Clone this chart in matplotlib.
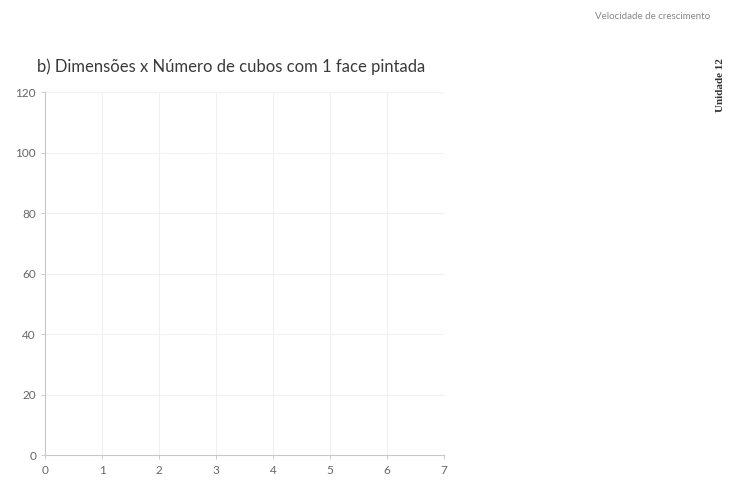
import matplotlib.pyplot as plt

plt.rcParams['font.family'] = ['Lato', 'DejaVu Sans']

# eixos do gráfico (gráfico vazio, para o aluno preencher)
x_ticks = [0, 1, 2, 3, 4, 5, 6, 7]
y_ticks = [0, 20, 40, 60, 80, 100, 120]
titulo = "b) Dimensões x Número de cubos com 1 face pintada"

fig = plt.figure(figsize=(7.37, 4.84), dpi=100)
ax = fig.add_axes([0.0611, 0.0599, 0.5414, 0.75])

ax.set_xlim(x_ticks[0], x_ticks[-1])
ax.set_ylim(y_ticks[0], y_ticks[-1])
ax.set_xticks(x_ticks)
ax.set_yticks(y_ticks)
ax.grid(True, color='#f0f0f0', linewidth=0.8)
ax.set_axisbelow(True)

for s in ['top', 'right']:
    ax.spines[s].set_visible(False)
for s in ['left', 'bottom']:
    ax.spines[s].set_color('#c8c8c8')
    ax.spines[s].set_linewidth(0.8)

ax.tick_params(colors='#c8c8c8', labelcolor='#666666', labelsize=8.5, length=3, width=0.6)
ax.tick_params(axis='x', pad=4)

# título do gráfico
fig.text(0.050, 0.862, titulo, fontsize=12, color='#3a3a3a', va='center', ha='left')

# cabeçalho da página
fig.text(0.963, 0.966, "Velocidade de crescimento", fontsize=7, color='#888888',
         va='center', ha='right')
fig.text(0.977, 0.825, "Unidade 12", fontsize=8, color='#333333', rotation=90,
         va='center', ha='center', family='Liberation Serif', fontweight='bold')

fig.savefig('out.png', dpi=100)
